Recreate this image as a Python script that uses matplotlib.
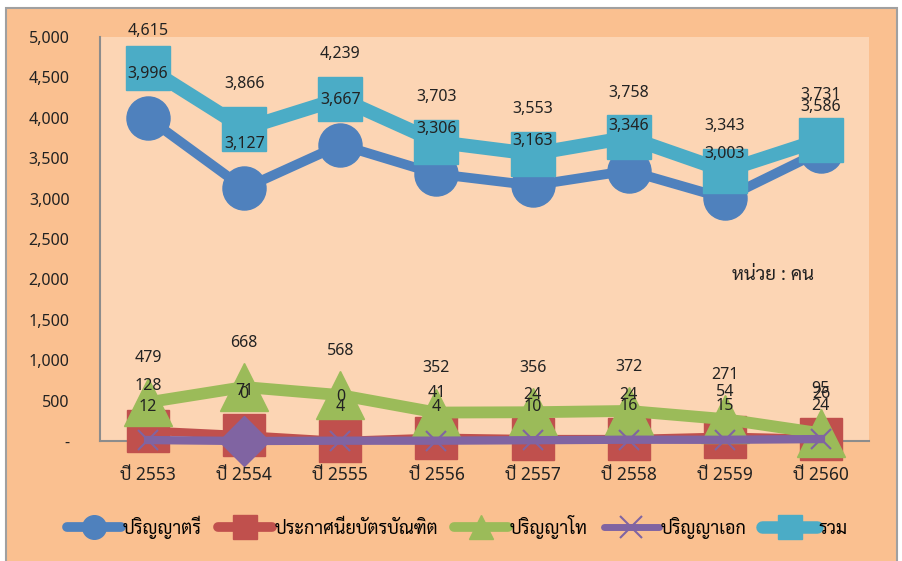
import matplotlib
matplotlib.use('Agg')
import matplotlib.pyplot as plt
from matplotlib import font_manager
from matplotlib.lines import Line2D
from matplotlib.patches import Rectangle
from matplotlib.ticker import FuncFormatter

# data (students per year)
years = ['ปี 2553', 'ปี 2554', 'ปี 2555', 'ปี 2556', 'ปี 2557', 'ปี 2558', 'ปี 2559', 'ปี 2560']
bachelor = [3996, 3127, 3667, 3306, 3163, 3346, 3003, 3586]
grad_cert = [128, 71, 0, 41, 24, 24, 54, 26]
master = [479, 668, 568, 352, 356, 372, 271, 95]
doctor = [12, 0, 4, 4, 10, 16, 15, 24]
total = [4615, 3866, 4239, 3703, 3553, 3758, 3343, 3731]
series_names = ['ปริญญาตรี', 'ประกาศนียบัตรบัณฑิต', 'ปริญญาโท', 'ปริญญาเอก', 'รวม']
y_ticks = [0, 500, 1000, 1500, 2000, 2500, 3000, 3500, 4000, 4500, 5000]

# pick a Thai font that is installed
available = {f.name for f in font_manager.fontManager.ttflist}
thai = next((n for n in ['Sarabun', 'Noto Sans Thai', 'Noto Sans Thai Looped', 'Bai Jamjuree', 'Athiti']
             if n in available), 'DejaVu Sans')
plt.rcParams['font.family'] = ['Noto Sans', thai, 'DejaVu Sans']

OUTER = '#FAC090'
INNER = '#FCD5B4'
BLUE = '#4F81BD'
RED = '#C0504D'
GREEN = '#9BBB59'
PURPLE = '#8064A2'
CYAN = '#4BACC6'

fig = plt.figure(figsize=(9.02, 5.61), dpi=100, facecolor='white')
fig.patches.append(Rectangle((0.0067, -0.02), 0.9878, 1.0057, transform=fig.transFigure,
                             facecolor=OUTER, edgecolor='#A0A0A0', linewidth=1.5, zorder=-10))
ax = fig.add_axes([0.1109, 0.2139, 0.8525, 0.7201])
ax.set_facecolor(INNER)

x = list(range(len(years)))

ax.plot(x, bachelor, color=BLUE, lw=7, marker='o', ms=31, mec=BLUE, clip_on=False, zorder=3)
ax.plot(x, grad_cert, color=RED, lw=6, marker='s', ms=30, mec=RED, clip_on=False, zorder=4)
ax.plot(x, master, color=GREEN, lw=8.5, marker='^', ms=34, mec=GREEN, clip_on=False, zorder=5)
ax.plot(x, doctor, color=PURPLE, lw=6, marker='x', ms=14, mew=1.5, clip_on=False, zorder=6)
# one point of the doctoral series has a diamond marker in the original
ax.plot([x[1]], [doctor[1]], color=PURPLE, marker='D', ms=25, ls='none', clip_on=False, zorder=6)
ax.plot(x, total, color=CYAN, lw=10, marker='s', ms=31, mec=CYAN, clip_on=False, zorder=7)

# data labels sit above each marker (offset grows with marker size)
doctor_off = [24] * len(x)
doctor_off[1] = 34

label_sets = [
    (bachelor, [32] * len(x)),
    (grad_cert, [32] * len(x)),
    (master, [32] * len(x)),
    (doctor, doctor_off),
    (total, [min(32, 27 + i * 10) for i in range(len(x))]),
]
for vals, offs in label_sets:
    for xi, v, off in zip(x, vals, offs):
        ax.annotate(f'{v:,}', (xi, v), xytext=(0, off), textcoords='offset points',
                    ha='center', va='center', fontsize=11.5, color='#222222', zorder=10,
                    annotation_clip=False)

ax.set_xlim(-0.5, len(years) - 0.5)
ax.set_ylim(0, 5000)
ax.set_yticks(y_ticks)
ax.yaxis.set_major_formatter(FuncFormatter(lambda v, p: '-' if v == 0 else f'{int(v):,}'))
ax.set_xticks(x)
ax.set_xticklabels(years)
ax.tick_params(axis='y', length=0, pad=22, labelsize=11.5, labelcolor='#222222')
ax.tick_params(axis='x', length=0, pad=18, labelsize=12.5, labelcolor='#222222')

for s in ['top', 'right']:
    ax.spines[s].set_visible(False)
for s in ['left', 'bottom']:
    ax.spines[s].set_color('#8C8C8C')
    ax.spines[s].set_linewidth(1.5)

ax.text(0.875, 0.41, 'หน่วย : คน', transform=ax.transAxes, ha='center', va='center',
        fontsize=13.5, color='#222222')

handles = [
    Line2D([], [], color=BLUE, lw=7, marker='o', ms=17, solid_capstyle='round'),
    Line2D([], [], color=RED, lw=7, marker='s', ms=17, solid_capstyle='round'),
    Line2D([], [], color=GREEN, lw=7, marker='^', ms=17, solid_capstyle='round'),
    Line2D([], [], color=PURPLE, lw=5, marker='x', ms=16, mew=1.5, solid_capstyle='round'),
    Line2D([], [], color=CYAN, lw=9, marker='s', ms=17, solid_capstyle='round'),
]
fig.legend(handles, series_names, loc='center', bbox_to_anchor=(0.507, 0.061), ncol=5,
           frameon=False, fontsize=13, handlelength=3.0, handletextpad=0.1, columnspacing=0.9)

fig.savefig('out.png', dpi=100, facecolor='white')
